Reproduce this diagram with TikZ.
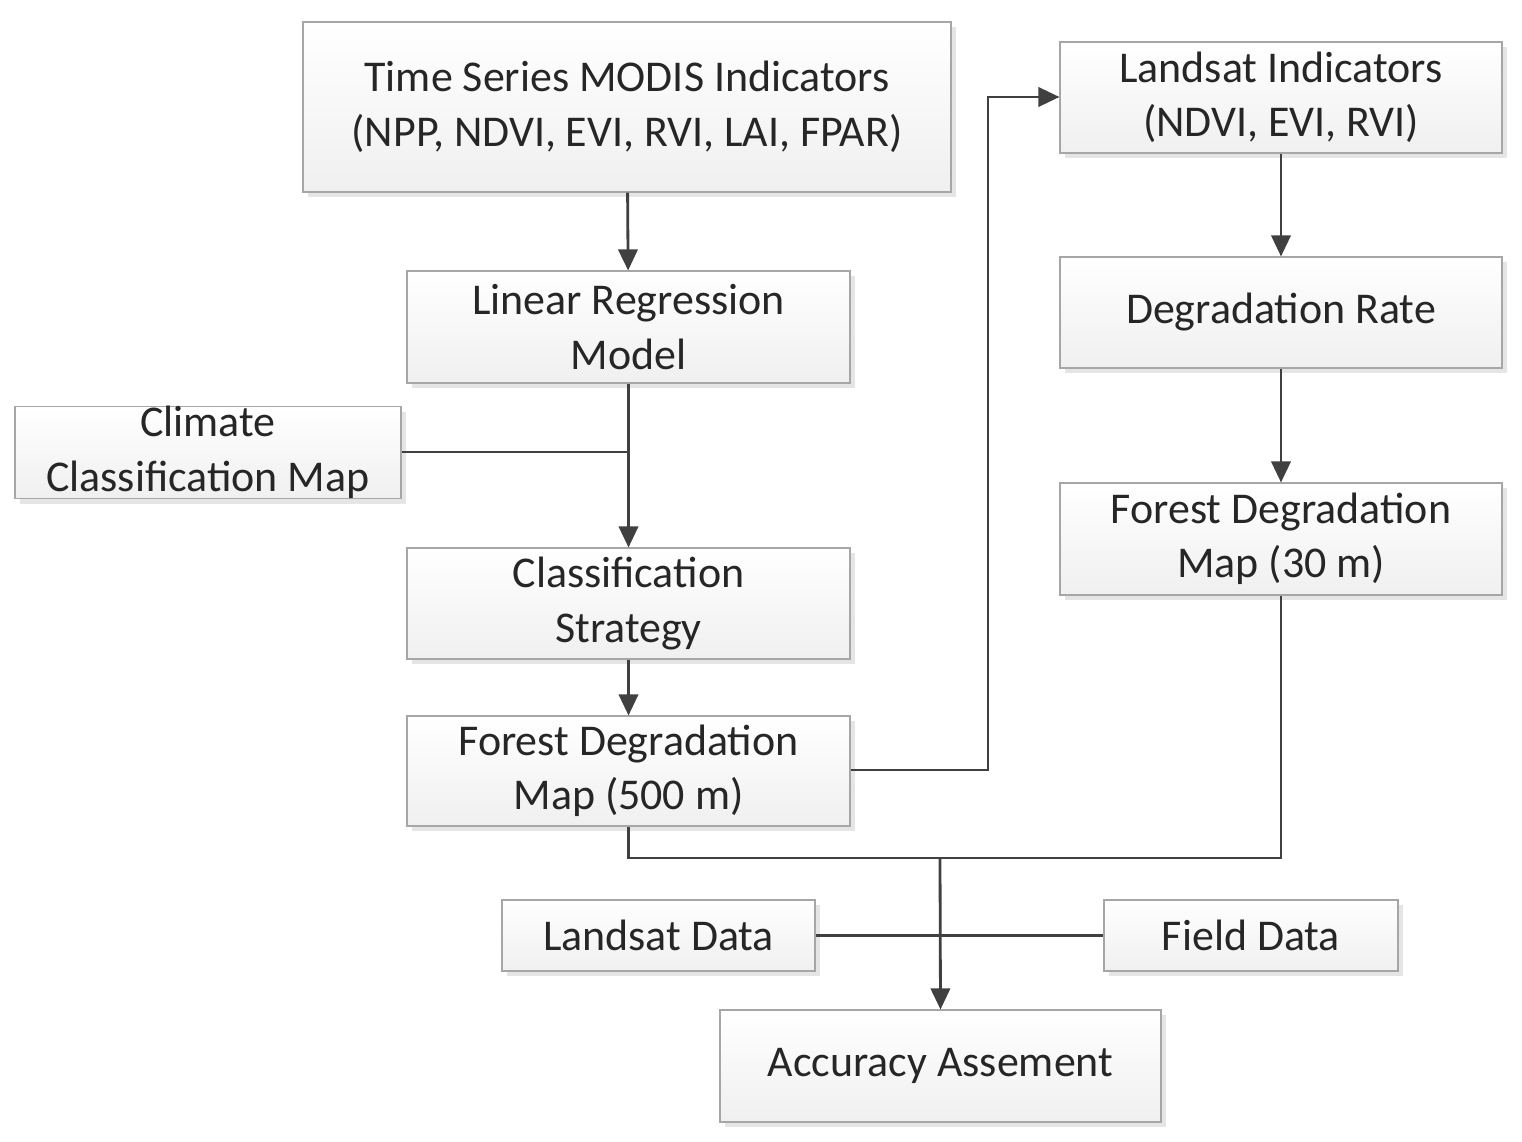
\documentclass[tikz,border=0pt]{standalone}
\usepackage{fontspec}
\setmainfont{Carlito}
\usetikzlibrary{arrows.meta,shadows}
\begin{document}
\begin{tikzpicture}[x=0.02cm,y=-0.02cm,
  box/.style={draw=gray!70,line width=0.6pt,top color=white,bottom color=gray!12,
    drop shadow={shadow xshift=3pt,shadow yshift=-3pt,fill=gray!40},
    align=center,inner sep=0pt,font=\fontsize{25}{31}\selectfont,text=black!85},
  line/.style={draw=black!75,line width=1.6pt},
  arr/.style={line,-{Triangle[length=12pt,width=11pt]}}]
\useasboundingbox (0,0) rectangle (1522,1142);
\newcommand\bx[6]{\node[box,minimum width={(#4-#2)*0.02cm},minimum height={(#5-#3)*0.02cm}] (#1) at ({(#2+#4)/2},{(#3+#5)/2}) {#6};}
\bx{modis}{303}{22}{951}{192}{Time Series MODIS Indicators\\(NPP, NDVI, EVI, RVI, LAI, FPAR)}
\bx{lr}{407}{271}{850}{383}{Linear Regression\\Model}
\bx{clim}{15}{408}{401}{497}{Climate\\Classification Map}
\bx{cs}{407}{548}{850}{659}{Classification\\Strategy}
\bx{f500}{407}{716}{850}{826}{Forest Degradation\\Map (500 m)}
\bx{li}{1060}{42}{1502}{153}{Landsat Indicators\\(NDVI, EVI, RVI)}
\bx{dr}{1060}{257}{1502}{368}{Degradation Rate}
\bx{f30}{1060}{483}{1502}{595}{Forest Degradation\\Map (30 m)}
\bx{ld}{502}{900}{815}{971}{Landsat Data}
\bx{fd}{1104}{900}{1398}{971}{Field Data}
\bx{acc}{720}{1010}{1161}{1122}{Accuracy Assement}
\coordinate (j1) at (627,452);
\coordinate (j2) at (940,858);
\draw[arr] (modis) -- (lr);
\draw[arr] (lr) -- (cs);
\draw[line] (clim.east |- j1) -- (j1);
\draw[arr] (cs) -- (f500);
\draw[arr] (f500.east |- 0,770) -- (988,770) -- (988,97) -- (li.west |- 0,97);
\draw[arr] (li) -- (dr);
\draw[arr] (dr) -- (f30);
\draw[line] (f30.south) -- (f30.south |- j2) -- (f500.south |- j2) -- (f500.south);
\draw[arr] (j2) -- (acc.north);
\draw[line] (ld.east) -- (fd.west);
\end{tikzpicture}
\end{document}
